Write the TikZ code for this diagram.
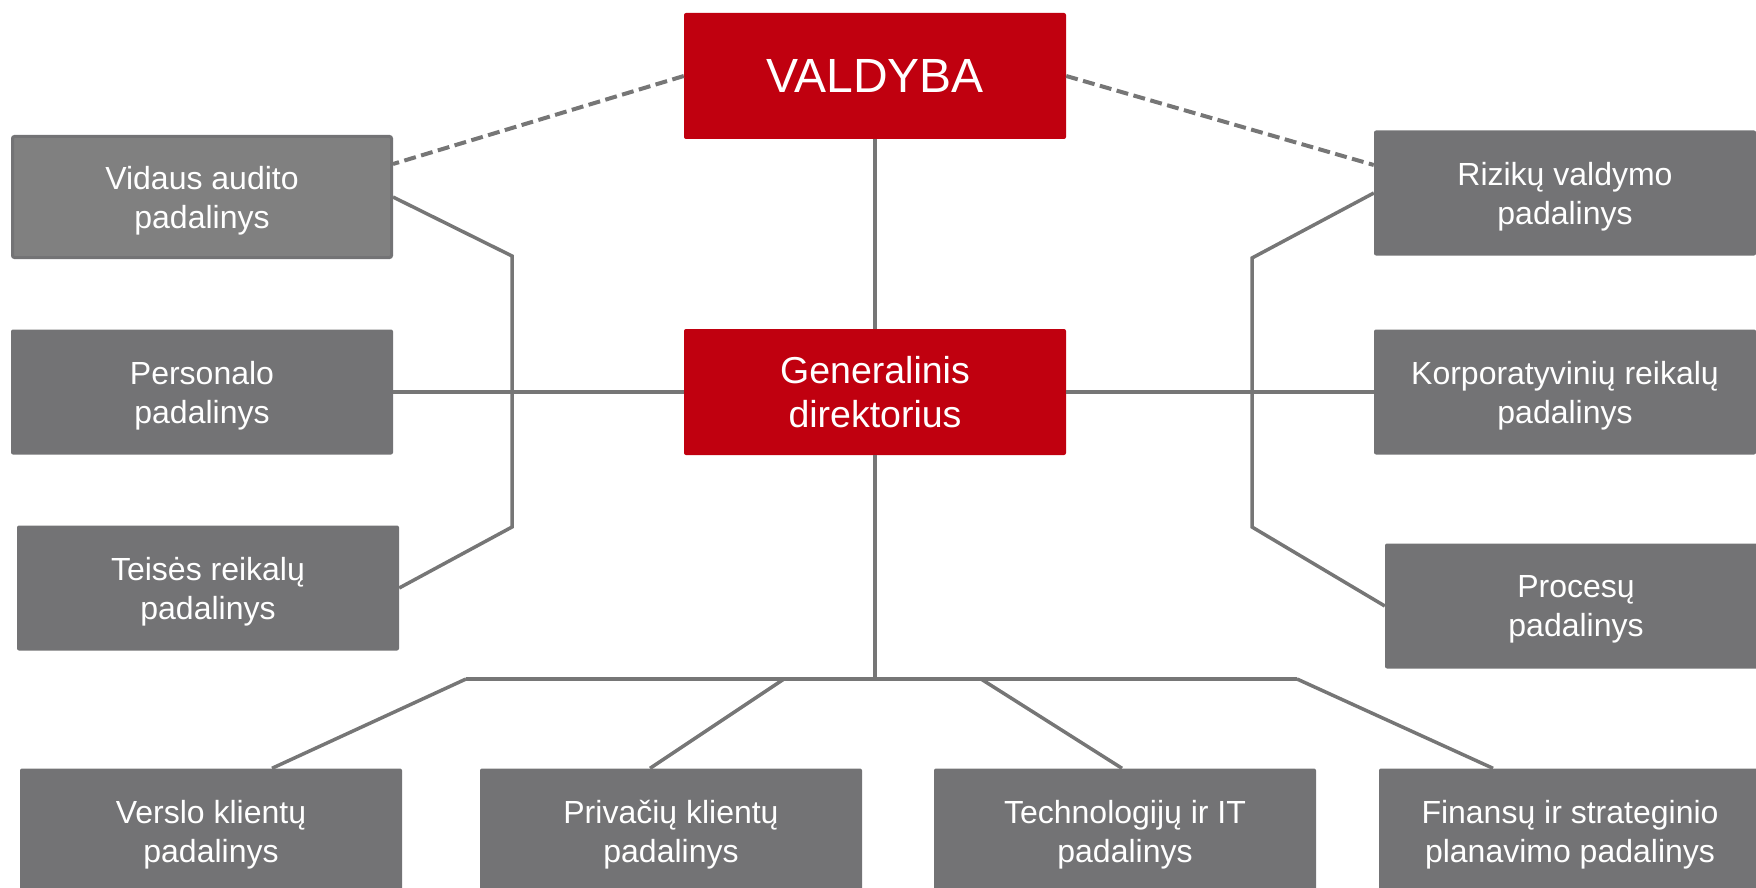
\documentclass[tikz,border=0pt]{standalone}
\usepackage{fontspec}
\setmainfont{Liberation Sans}
\definecolor{boardred}{HTML}{C0000F}
\definecolor{unitgray}{HTML}{737375}
\definecolor{auditgray}{HTML}{808080}
\definecolor{linegray}{HTML}{767676}
\tikzstyle{redbox} = [rectangle, rounded corners=2pt, minimum width=382pt, minimum height=126pt, inner sep=2pt, text centered, align=center, fill=boardred, text=white, font=\fontsize{37.5}{44}\selectfont]
\tikzstyle{graybox} = [rectangle, rounded corners=2pt, minimum width=382pt, minimum height=125pt, inner sep=2pt, text centered, align=center, fill=unitgray, text=white, font=\fontsize{32}{39}\selectfont, text depth=0pt]
\tikzstyle{link} = [draw=linegray, line width=3.5pt]
\tikzstyle{dlink} = [link, line width=4pt, dash pattern=on 12pt off 5.5pt]

\begin{document}
\begin{tikzpicture}[x=1pt, y=-1pt]
    \useasboundingbox (0,0) rectangle (1756,888);
    % top
    \node (valdyba) [redbox, font=\fontsize{48}{56}\selectfont] at (875,76) {VALDYBA};
    \node (gd) [redbox, below of=valdyba, node distance=316pt] {Generalinis\\direktorius};
    % left side
    \node (audit) [graybox, fill=auditgray, draw=unitgray, line width=3pt, minimum width=379pt, minimum height=121pt] at (202,197) {Vidaus audito\\padalinys};
    \node (personal) [graybox, left of=gd, node distance=673pt] {Personalo\\padalinys};
    \node (legal) [graybox] at (208,588) {Teisės reikalų\\padalinys};
    % right side
    \node (risk) [graybox] at (1565,193) {Rizikų valdymo\\padalinys};
    \node (corp) [graybox, right of=gd, node distance=690pt] {Korporatyvinių reikalų\\padalinys};
    \node (process) [graybox] at (1576,606) {Procesų\\padalinys};
    % bottom row
    \node (business) [graybox] at (211,831) {Verslo klientų\\padalinys};
    \node (private) [graybox] at (671,831) {Privačių klientų\\padalinys};
    \node (tech) [graybox] at (1125,831) {Technologijų ir IT\\padalinys};
    \node (finance) [graybox] at (1570,831) {Finansų ir strateginio\\planavimo padalinys};

    \coordinate (lt) at (512,256);
    \coordinate (lb) at (512,527);
    \coordinate (rt) at (1252,258);
    \coordinate (rb) at (1252,527);
    \coordinate (bus) at (875,679);
    \coordinate (b1) at (466,679);
    \coordinate (b2) at (784,679);
    \coordinate (b3) at (981,679);
    \coordinate (b4) at (1297,679);

    \draw [dlink] (valdyba.west) -- ([yshift=33pt]audit.east);
    \draw [dlink] (valdyba.east) -- ([yshift=28pt]risk.west);
    \draw [link] (valdyba.south) -- (gd.north);
    \draw [link] (personal.east) -- (gd.west);
    \draw [link] (gd.east) -- (corp.west);
    \draw [link] (audit.east) -- (lt) -- (lb) -- (legal.east);
    \draw [link] (risk.west) -- (rt) -- (rb) -- (process.west);
    \draw [link] (gd.south) -- (bus);
    \draw [link] (b1) -- (b4);
    \draw [link] (b1) -- ([xshift=61pt]business.north);
    \draw [link] (b2) -- ([xshift=-21pt]private.north);
    \draw [link] (b3) -- ([xshift=-3pt]tech.north);
    \draw [link] (b4) -- ([xshift=-77pt]finance.north);
\end{tikzpicture}
\end{document}
